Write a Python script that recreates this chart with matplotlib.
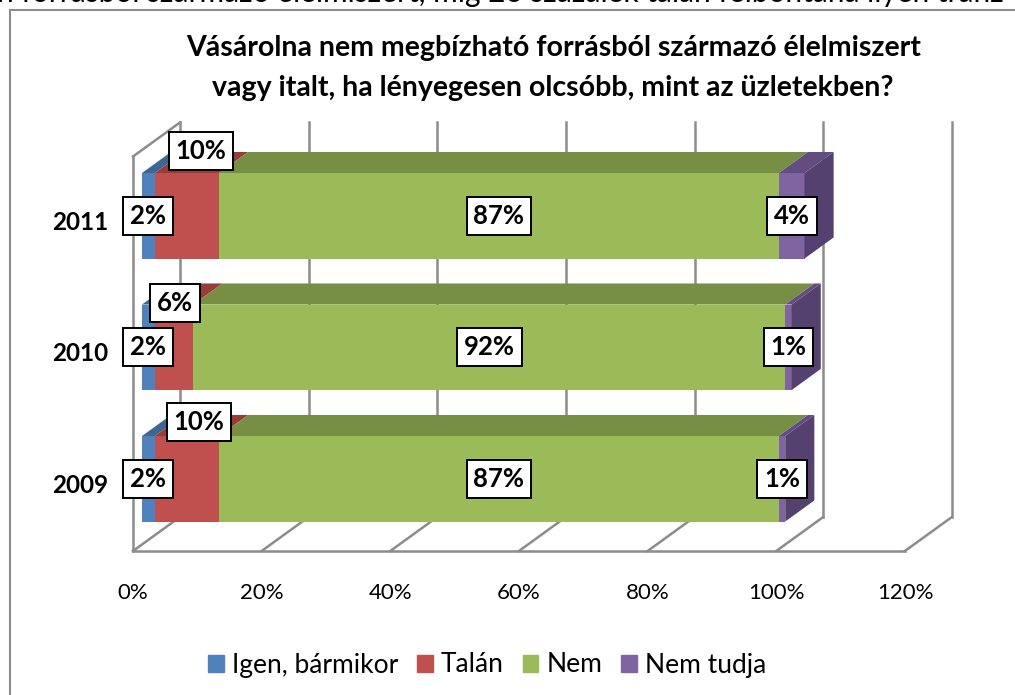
import matplotlib.pyplot as plt
from matplotlib.patches import Polygon, Patch

# data
years = ['2009', '2010', '2011']
igen = [2, 2, 2]
talan = [10, 6, 10]
nem = [87, 92, 87]
nem_tudja = [1, 1, 4]
series_names = ['Igen, bármikor', 'Talán', 'Nem', 'Nem tudja']
x_ticks = [0, 20, 40, 60, 80, 100, 120]

colors = ['#4F81BD', '#C0504D', '#9BBB59', '#8064A2']
top_colors = ['#3C6795', '#983B39', '#778F44', '#634D80']
side_color = '#554170'
wall = '#8C8C8C'

plt.rcParams['font.family'] = ['Lato', 'DejaVu Sans']

fig = plt.figure(figsize=(10.15, 6.95), dpi=100)
ax = fig.add_axes([0, 0, 1, 1])
# front plane: 0% at x=133px, 120% at x=905px ; categories 131.5px apart
ax.set_xlim(-133 / 6.433, (1015 - 133) / 6.433)
ax.set_ylim(-0.5 - 144 / 131.5, -0.5 + 551 / 131.5)
ax.axis('off')

DX, DY = 7.3, 0.2586   # full depth of the 3d box in data units
f0, f1 = 0.19, 0.81     # bars occupy this slice of the depth
h = 0.65

# walls and grid
for x in x_ticks:
    ax.plot([x + DX, x + DX], [-0.5 + DY, 2.5 + DY], color=wall, lw=1.8, zorder=1)
    ax.plot([x, x + DX], [-0.5, -0.5 + DY], color=wall, lw=1.8, zorder=1)
ax.plot([0, 120], [-0.5, -0.5], color=wall, lw=1.8, zorder=1)
ax.plot([0, 0], [-0.5, 2.5], color=wall, lw=1.8, zorder=1)
ax.plot([0, DX], [2.5, 2.5 + DY], color=wall, lw=1.8, zorder=1)

data = [igen, talan, nem, nem_tudja]
red_offsets = [(12, 57), (1, 44), (14, 65)]

for i in range(len(years)):
    left = 0
    for k, vals in enumerate(data):
        w = vals[i]
        ax.barh(i + f0 * DY, w, height=h, left=left + f0 * DX, color=colors[k], zorder=3)
        top = i + h / 2
        bot = i - h / 2
        ax.add_patch(Polygon([(left + f0 * DX, top + f0 * DY), (left + w + f0 * DX, top + f0 * DY),
                              (left + w + f1 * DX, top + f1 * DY), (left + f1 * DX, top + f1 * DY)],
                             closed=True, color=top_colors[k], lw=0, zorder=3))
        if k == len(data) - 1:
            r = left + w
            ax.add_patch(Polygon([(r + f0 * DX, bot + f0 * DY), (r + f1 * DX, bot + f1 * DY),
                                  (r + f1 * DX, top + f1 * DY), (r + f0 * DX, top + f0 * DY)],
                                 closed=True, color=side_color, lw=0, zorder=3))
        cx = left + w / 2 + f0 * DX
        cy = i + f0 * DY
        off = red_offsets[i] if k == 1 else (0, 0)
        ax.annotate('%d%%' % w, (cx, cy), xytext=off, textcoords='offset pixels',
                    ha='center', va='center', fontsize=18.5, fontweight='bold', zorder=5,
                    bbox=dict(boxstyle='square,pad=0.27', fc='white', ec='black', lw=1.4))
        left += w

# axis labels
for x in x_ticks:
    ax.text(x, -0.5 - 42 / 131.5, '%d%%' % x, ha='center', va='center', fontsize=16)
for i, y in enumerate(years):
    ax.text(-25 / 6.433, i, y, ha='right', va='center', fontsize=17.5, fontweight='bold')

fig.text(0.545, 1 - 48 / 695, 'Vásárolna nem megbízható forrásból származó élelmiszert',
         ha='center', va='center', fontsize=20.5, fontweight='bold')
fig.text(0.545, 1 - 88 / 695, 'vagy italt, ha lényegesen olcsóbb, mint az üzletekben?',
         ha='center', va='center', fontsize=20.5, fontweight='bold')

handles = [Patch(color=c) for c in colors]
fig.legend(handles, series_names, loc='center', bbox_to_anchor=(487 / 1015, 1 - 665 / 695), ncol=4,
           frameon=False, fontsize=19, handlelength=0.6, handleheight=0.6,
           handletextpad=0.3, columnspacing=0.72)

# chart frame and the text line cut off above it
fig.add_artist(plt.Line2D([10 / 1015, 10 / 1015], [0, 1 - 10 / 695], color=wall, lw=1.5))
fig.add_artist(plt.Line2D([10 / 1015, 1], [1 - 10 / 695, 1 - 10 / 695], color=wall, lw=1.5))
fig.text(-0.003, 1 - 2 / 695, 'n forrásból származó élelmiszert, míg 26 százalék talán felbontaná ilyen tranz',
         ha='left', va='baseline', fontsize=21.5)

fig.savefig('out.png', dpi=100)
